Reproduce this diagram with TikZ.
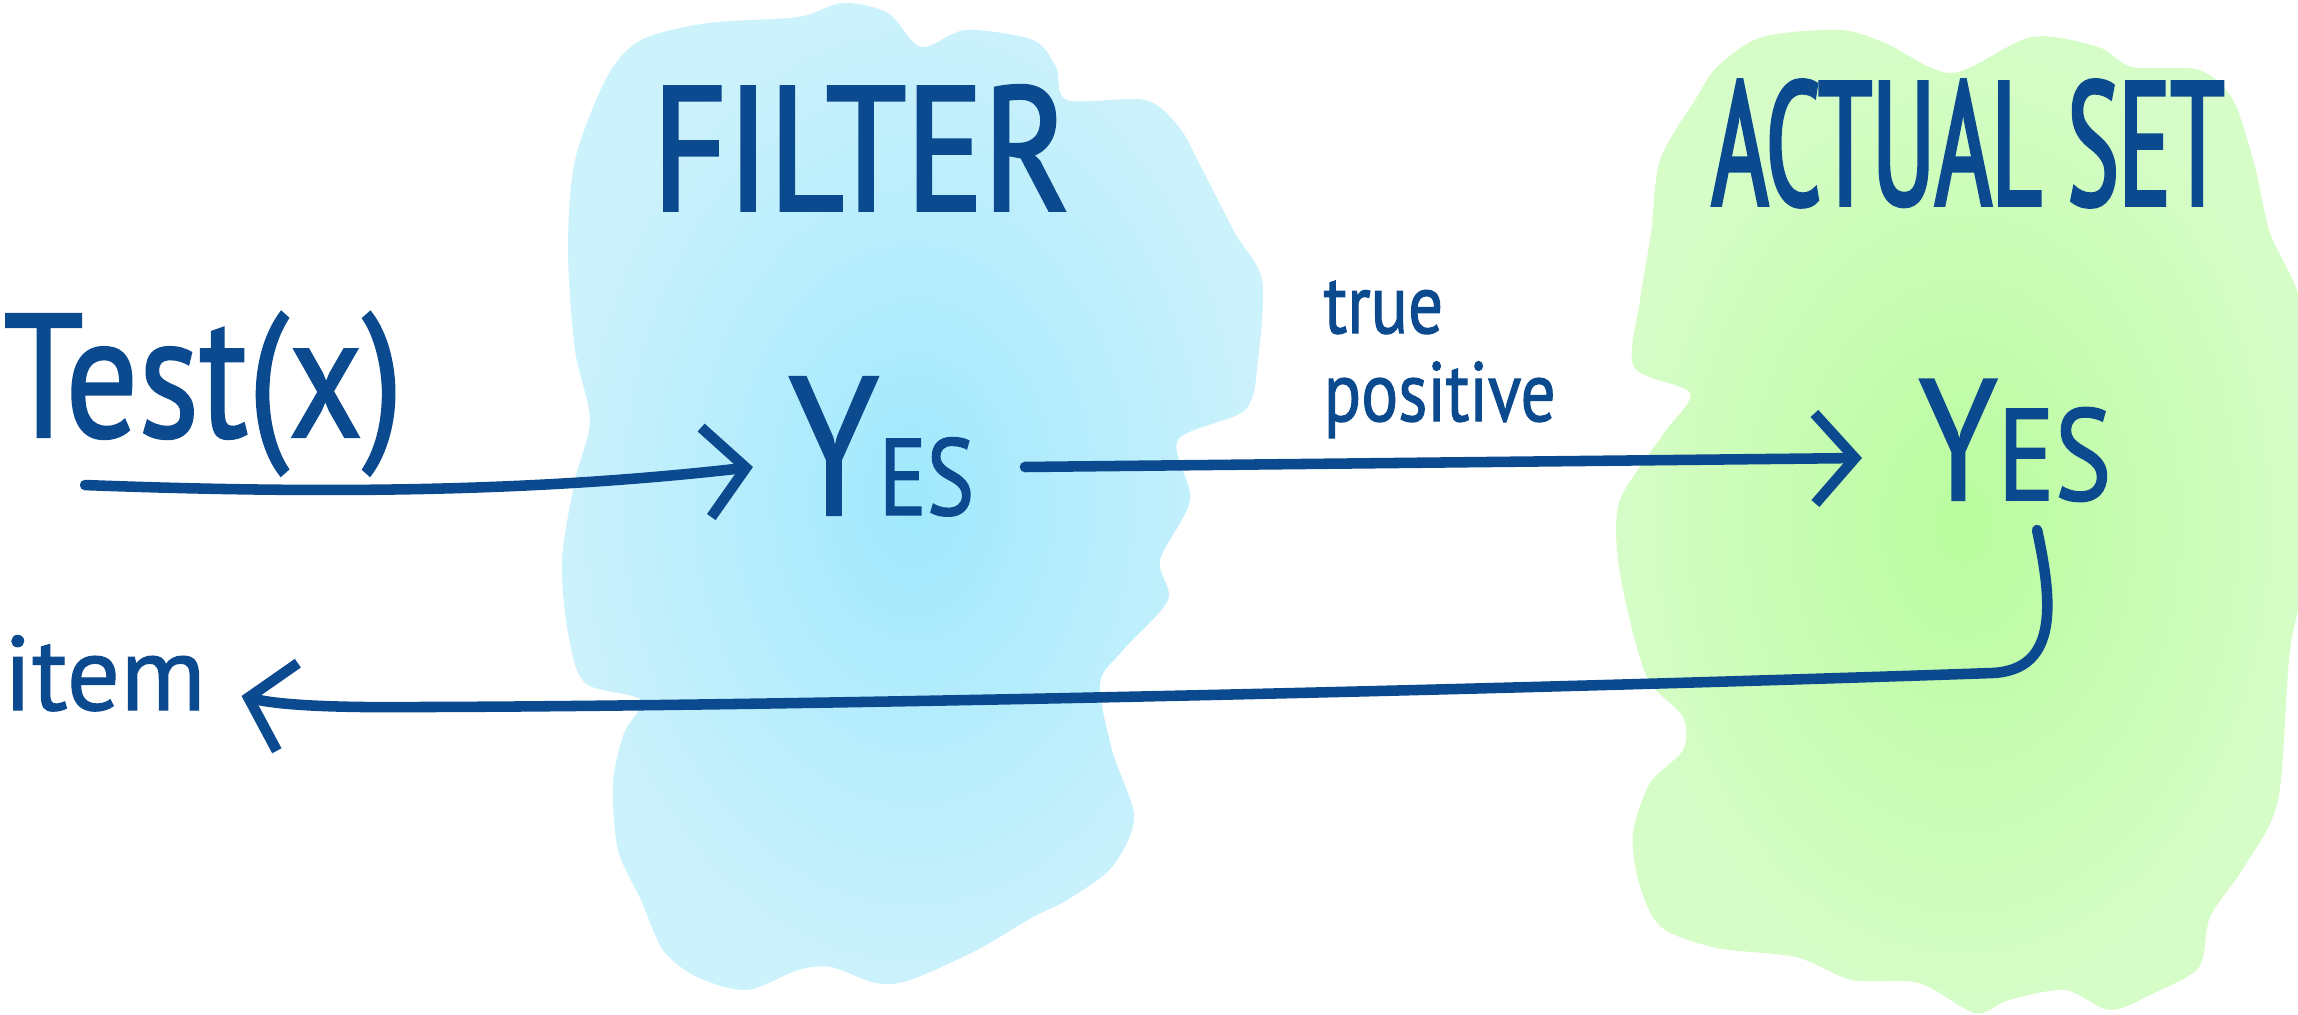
\documentclass[tikz,border=0pt]{standalone}
\usepackage{fontspec}
\usetikzlibrary{arrows.meta}
\newfontfamily\inkhead[FakeStretch=0.82,FakeBold=2]{PT Sans}
\newfontfamily\inkmid[FakeStretch=0.82,FakeBold=1.2]{PT Sans}
\newfontfamily\inknarrow[FakeStretch=0.55,FakeBold=2]{PT Sans}
\newfontfamily\inkwide[FakeBold=1]{PT Sans}
\definecolor{inkblue}{RGB}{11,74,143}
\definecolor{filtercore}{RGB}{160,232,253}
\definecolor{filteredge}{RGB}{204,242,252}
\definecolor{setcore}{RGB}{186,252,158}
\definecolor{setedge}{RGB}{214,253,200}
\tikzset{
    inklabel/.style={text=inkblue,inner sep=0pt,anchor=base west},
    inkline/.style={draw=inkblue,line width=3pt,line cap=round,line join=round,-{Straight Barb[length=4mm,width=9mm]}},
    filterwash/.style={inner color=filtercore,outer color=filteredge},
    setwash/.style={inner color=setcore,outer color=setedge}
}

\begin{document}
\begin{tikzpicture}[x=0.01cm,y=-0.01cm]
    \useasboundingbox (0,0) rectangle (2298,1014);
    \clip (0,0) rectangle (2298,1014);
    % watercolour patches
    \shade[filterwash] plot[smooth cycle,tension=0.5] coordinates {
        (568,250) (575,160) (607,77) (641,40) (708,23) (798,17) (843,3) (888,13)
        (921,47) (966,30) (1033,40) (1056,67) (1067,100) (1145,100) (1179,127)
        (1201,167) (1235,233) (1262,280) (1258,360) (1245,410) (1178,440) (1190,500)
        (1160,560) (1168,600) (1123,650) (1100,683) (1112,750) (1134,817) (1112,867)
        (1067,900) (1033,917) (977,950) (910,980) (876,983) (831,967) (798,970)
        (747,990) (697,977) (663,950) (641,900) (618,850) (613,783) (624,733)
        (641,700) (585,683) (568,633) (562,560) (575,480) (590,420) (575,350)};
    \shade[setwash] plot[smooth cycle,tension=0.5] coordinates {
        (1695,100) (1717,67) (1762,37) (1840,30) (1885,43) (1952,73) (2031,37)
        (2098,47) (2132,67) (2199,70) (2233,100) (2255,167) (2270,233) (2300,300)
        (2310,400) (2310,550) (2290,650) (2278,800) (2244,867) (2210,917) (2199,967)
        (2154,993) (2110,1010) (2065,990) (2009,1000) (1975,1013) (1919,983)
        (1852,980) (1796,957) (1717,948) (1661,927) (1639,883) (1633,833) (1650,783)
        (1683,750) (1683,717) (1650,683) (1633,633) (1618,560) (1620,500) (1664,433)
        (1690,393) (1634,367) (1640,300) (1651,233) (1660,160)};
    % labels
    \node[inklabel] (filter) at (652,210) {\inkhead\fontsize{50}{50}\selectfont FILTER};
    \node[inklabel] (actualset) at (1711,205) {\inknarrow\fontsize{50}{50}\selectfont ACTUAL SET};
    \node[inklabel] (test) at (3,437) {\inkmid\fontsize{50}{50}\selectfont Test(x)};
    \node[inklabel] (yesfilter) at (788,515) {\inkmid{\fontsize{56}{56}\selectfont Y}{\fontsize{31}{31}\selectfont ES}};
    \node[inklabel] (yesactual) at (1918,500) {\inkmid{\fontsize{49}{49}\selectfont Y}{\fontsize{37}{37}\selectfont ES}};
    \node[inklabel,anchor=north west,align=left,font=\inkmid\fontsize{24}{25}\selectfont] (truepos) at (1323,280) {true\\positive};
    \node[inklabel] (item) at (3,710) {\inkwide\fontsize{30}{30}\selectfont item};
    % arrows
    \draw[inkline] ([xshift=8.2mm,yshift=-4.8mm]test.base west) .. controls (350,495) and (550,490) .. ([xshift=-3.5mm,yshift=4.8mm]yesfilter.base west);
    \draw[inkline] ([xshift=5mm,yshift=4.8mm]yesfilter.base east) -- ([xshift=-5.6mm,yshift=4.2mm]yesactual.base west);
    \draw[inkline] ([xshift=2.2mm,yshift=-3mm]yesactual.base) .. controls (2052,600) and (2060,670) .. (1992,673)
        .. controls (1500,690) and (800,706) .. (420,707) .. controls (320,708) and (275,704) .. ([xshift=3.5mm,yshift=1.4mm]item.base east);
\end{tikzpicture}
\end{document}
